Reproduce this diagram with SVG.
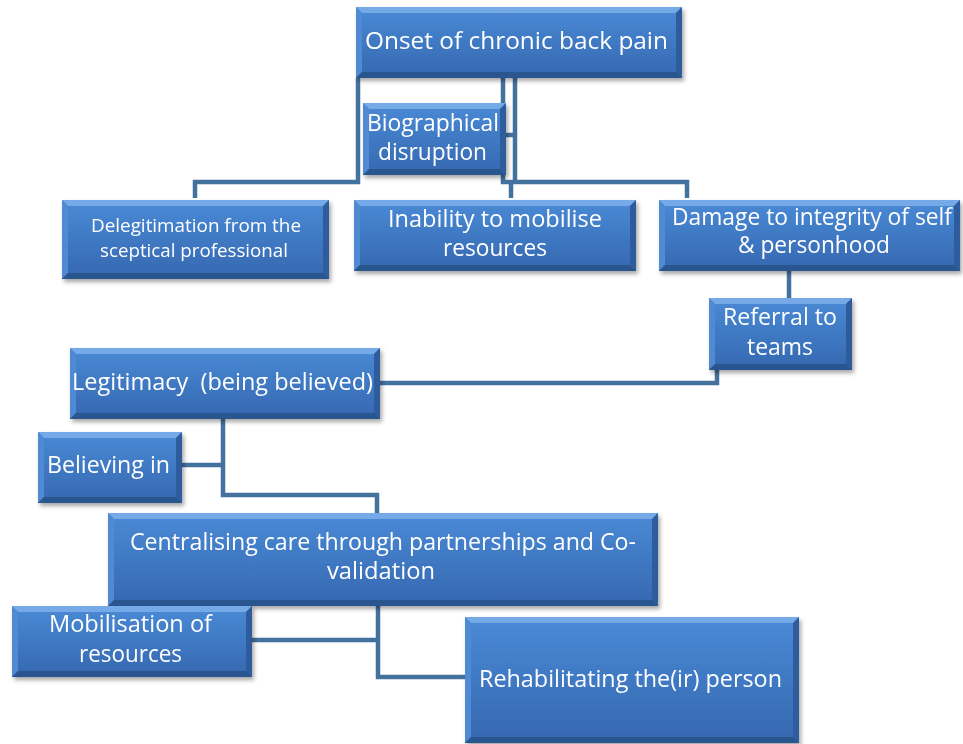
<svg xmlns="http://www.w3.org/2000/svg" width="963" height="744" viewBox="0 0 963 744">
  <defs>
    <linearGradient id="faceGrad" x1="0" y1="0" x2="0" y2="1">
      <stop offset="0" stop-color="#4a8ad6"/>
      <stop offset="1" stop-color="#3568b0"/>
    </linearGradient>
    <filter id="shadow" x="-10%" y="-10%" width="125%" height="135%">
      <feDropShadow dx="2" dy="3" stdDeviation="2" flood-color="#000" flood-opacity="0.35"/>
    </filter>
  </defs>
  <style>
    .face { fill: url(#faceGrad); }
    .bt { fill: #74a9e8; }
    .bl { fill: #4f8ad2; }
    .br { fill: #2e5c9c; }
    .bb { fill: #2a5690; }
    .node { filter: url(#shadow); }
    .lbl { fill: #ffffff; font-family: "Open Sans", "Noto Sans", sans-serif; font-size: 23px; text-anchor: middle; }
    .sm { font-size: 19px; }
    .conn { fill: none; stroke: #44729f; stroke-width: 4.5; stroke-linejoin: miter; }
  </style>

  <rect width="963" height="744" fill="#ffffff"/>

  <!-- connectors -->
  <g id="connectors" class="conn">
    <path d="M358,78 V182 H195 V198"/>
    <path d="M503,78 V182 H511 V198"/>
    <path d="M515,78 V182 H687 V198"/>
    <path d="M503,135 H515"/>
    <path d="M789,271 V298"/>
    <path d="M717,370 V383 H380"/>
    <path d="M223,419 V495 H377 V513"/>
    <path d="M182,465 H223"/>
    <path d="M378,606 V677 H465"/>
    <path d="M252,640 H378"/>
  </g>

  <!-- nodes -->
  <g id="onset" class="node">
    <rect class="face" x="356" y="7" width="326" height="71"/>
    <polygon class="bt" points="356,7 682,7 676,13 362,13"/>
    <polygon class="bl" points="356,7 362,13 362,72 356,78"/>
    <polygon class="br" points="682,7 682,78 676,72 676,13"/>
    <polygon class="bb" points="356,78 682,78 676,72 362,72"/>
    <text class="lbl" x="516.5" y="49" textLength="303" lengthAdjust="spacingAndGlyphs" font-size="25">Onset of chronic back pain</text>
  </g>

  <g id="biographical" class="node">
    <rect class="face" x="363" y="103" width="143" height="72"/>
    <polygon class="bt" points="363,103 506,103 500,109 369,109"/>
    <polygon class="bl" points="363,103 369,109 369,169 363,175"/>
    <polygon class="br" points="506,103 506,175 500,169 500,109"/>
    <polygon class="bb" points="363,175 506,175 500,169 369,169"/>
    <text class="lbl" x="433" y="131" textLength="132" lengthAdjust="spacingAndGlyphs">Biographical</text>
    <text class="lbl" x="432.5" y="160" textLength="109" lengthAdjust="spacingAndGlyphs">disruption</text>
  </g>

  <g id="delegitimation" class="node">
    <rect class="face" x="62" y="200" width="267" height="79"/>
    <polygon class="bt" points="62,200 329,200 323,206 68,206"/>
    <polygon class="bl" points="62,200 68,206 68,273 62,279"/>
    <polygon class="br" points="329,200 329,279 323,273 323,206"/>
    <polygon class="bb" points="62,279 329,279 323,273 68,273"/>
    <text class="lbl sm" x="196" y="232" textLength="210" lengthAdjust="spacingAndGlyphs">Delegitimation from the</text>
    <text class="lbl sm" x="194" y="257" textLength="188" lengthAdjust="spacingAndGlyphs">sceptical professional</text>
  </g>

  <g id="inability" class="node">
    <rect class="face" x="354" y="200" width="282" height="71"/>
    <polygon class="bt" points="354,200 636,200 630,206 360,206"/>
    <polygon class="bl" points="354,200 360,206 360,265 354,271"/>
    <polygon class="br" points="636,200 636,271 630,265 630,206"/>
    <polygon class="bb" points="354,271 636,271 630,265 360,265"/>
    <text class="lbl" x="495" y="227" textLength="214" lengthAdjust="spacingAndGlyphs">Inability to mobilise</text>
    <text class="lbl" x="495" y="256" textLength="104" lengthAdjust="spacingAndGlyphs">resources</text>
  </g>

  <g id="damage" class="node">
    <rect class="face" x="659" y="200" width="301" height="71"/>
    <polygon class="bt" points="659,200 960,200 954,206 665,206"/>
    <polygon class="bl" points="659,200 665,206 665,265 659,271"/>
    <polygon class="br" points="960,200 960,271 954,265 954,206"/>
    <polygon class="bb" points="659,271 960,271 954,265 665,265"/>
    <text class="lbl" x="812" y="225" textLength="280" lengthAdjust="spacingAndGlyphs">Damage to integrity of self</text>
    <text class="lbl" x="814" y="253" textLength="152" lengthAdjust="spacingAndGlyphs">&amp; personhood</text>
  </g>

  <g id="referral" class="node">
    <rect class="face" x="709" y="298" width="143" height="72"/>
    <polygon class="bt" points="709,298 852,298 846,304 715,304"/>
    <polygon class="bl" points="709,298 715,304 715,364 709,370"/>
    <polygon class="br" points="852,298 852,370 846,364 846,304"/>
    <polygon class="bb" points="709,370 852,370 846,364 715,364"/>
    <text class="lbl" x="780" y="325" textLength="114" lengthAdjust="spacingAndGlyphs">Referral to</text>
    <text class="lbl" x="780" y="355" textLength="66" lengthAdjust="spacingAndGlyphs">teams</text>
  </g>

  <g id="legitimacy" class="node">
    <rect class="face" x="70" y="348" width="310" height="71"/>
    <polygon class="bt" points="70,348 380,348 374,354 76,354"/>
    <polygon class="bl" points="70,348 76,354 76,413 70,419"/>
    <polygon class="br" points="380,348 380,419 374,413 374,354"/>
    <polygon class="bb" points="70,419 380,419 374,413 76,413"/>
    <text class="lbl" x="222.5" y="390" textLength="301" lengthAdjust="spacingAndGlyphs" xml:space="preserve">Legitimacy  (being believed)</text>
  </g>

  <g id="believing" class="node">
    <rect class="face" x="38" y="432" width="144" height="71"/>
    <polygon class="bt" points="38,432 182,432 176,438 44,438"/>
    <polygon class="bl" points="38,432 44,438 44,497 38,503"/>
    <polygon class="br" points="182,432 182,503 176,497 176,438"/>
    <polygon class="bb" points="38,503 182,503 176,497 44,497"/>
    <text class="lbl" x="108.5" y="473" textLength="123" lengthAdjust="spacingAndGlyphs">Believing in</text>
  </g>

  <g id="centralising" class="node">
    <rect class="face" x="108" y="513" width="550" height="93"/>
    <polygon class="bt" points="108,513 658,513 652,519 114,519"/>
    <polygon class="bl" points="108,513 114,519 114,600 108,606"/>
    <polygon class="br" points="658,513 658,606 652,600 652,519"/>
    <polygon class="bb" points="108,606 658,606 652,600 114,600"/>
    <text class="lbl" x="383" y="550" textLength="506" lengthAdjust="spacingAndGlyphs">Centralising care through partnerships and Co-</text>
    <text class="lbl" x="381" y="579" textLength="108" lengthAdjust="spacingAndGlyphs">validation</text>
  </g>

  <g id="mobilisation" class="node">
    <rect class="face" x="12" y="606" width="240" height="71"/>
    <polygon class="bt" points="12,606 252,606 246,612 18,612"/>
    <polygon class="bl" points="12,606 18,612 18,671 12,677"/>
    <polygon class="br" points="252,606 252,677 246,671 246,612"/>
    <polygon class="bb" points="12,677 252,677 246,671 18,671"/>
    <text class="lbl" x="130.5" y="632" textLength="163" lengthAdjust="spacingAndGlyphs">Mobilisation of</text>
    <text class="lbl" x="130.5" y="662" textLength="103" lengthAdjust="spacingAndGlyphs">resources</text>
  </g>

  <g id="rehabilitating" class="node">
    <rect class="face" x="465" y="617" width="334" height="126"/>
    <polygon class="bt" points="465,617 799,617 793,623 471,623"/>
    <polygon class="bl" points="465,617 471,623 471,737 465,743"/>
    <polygon class="br" points="799,617 799,743 793,737 793,623"/>
    <polygon class="bb" points="465,743 799,743 793,737 471,737"/>
    <text class="lbl" x="630.5" y="687" textLength="303" lengthAdjust="spacingAndGlyphs">Rehabilitating the(ir) person</text>
  </g>
</svg>
